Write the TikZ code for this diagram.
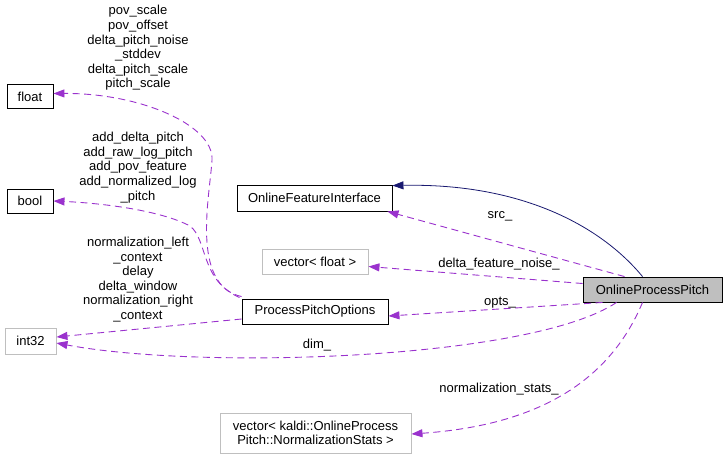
\documentclass[tikz,border=0pt]{standalone}
\usepackage{fontspec}
\setmainfont{Liberation Sans}
\usetikzlibrary{positioning,arrows.meta}
\definecolor{mempurple}{HTML}{9A32CD}
\definecolor{undocgrey}{HTML}{BFBFBF}
\definecolor{inhblue}{HTML}{191970}

\begin{document}
\begin{tikzpicture}[x=1pt,y=-1pt,
	txt/.style={font=\fontsize{13}{14.6}\selectfont, align=center, inner sep=0pt},
	box/.style={txt, rectangle, draw=black, line width=0.9pt},
	greybox/.style={box, draw=undocgrey},
	member/.style={draw=mempurple, line width=0.9pt, dash pattern=on 7pt off 4.5pt, -{Triangle[length=11pt,width=8pt,fill=mempurple]}},
	inherit/.style={draw=inhblue, line width=0.8pt, -{Triangle[length=11pt,width=8pt,fill=inhblue]}}]
	\useasboundingbox (0,0) rectangle (727,459);
	% classes
	\node[box, minimum width=46pt, minimum height=24pt] (float) at (30,96.5) {float};
	\node[box, minimum width=46pt, minimum height=24pt] (bool) at (30,201) {bool};
	\node[greybox, minimum width=51pt, minimum height=26pt] (int32) at (30.5,341) {int32};
	\node[box, minimum width=155pt, minimum height=26pt] (ofi) at (314.5,198) {OnlineFeatureInterface};
	\node[greybox, minimum width=106pt, minimum height=25pt] (vecfloat) at (315,261.5) {vector< float >};
	\node[box, minimum width=146pt, minimum height=25pt] (ppo) at (315,311.5) {ProcessPitchOptions};
	\node[box, fill=undocgrey, minimum width=139pt, minimum height=25pt] (opp) at (652.5,289.5) {OnlineProcessPitch};
	\node[greybox, minimum width=191pt, minimum height=40pt] (veckaldi) at (315.5,433) {vector< kaldi::OnlineProcess\\Pitch::NormalizationStats >};

	% inheritance
	\draw[inherit] ([xshift=-10pt]opp.north) .. controls (600,225) and (520,183) .. ([yshift=-1pt]ofi.north east);

	% members of OnlineProcessPitch
	\draw[member] ([xshift=-28pt]opp.north) -- ([xshift=-5pt]ofi.south east);
	\draw[member] ([yshift=6pt]opp.west) -- ([yshift=-5pt]vecfloat.east);
	\draw[member] ([xshift=-50pt]opp.south) -- ([yshift=-4.5pt]ppo.east);
	\draw[member] ([xshift=-36pt]opp.south) .. controls (530,360) and (200,370) .. ([yshift=-2pt]int32.east);
	\draw[member] ([xshift=-10pt]opp.south) .. controls (610,380) and (540,425) .. ([yshift=-1pt]veckaldi.east);

	% members of ProcessPitchOptions
	\draw[member] ([yshift=2pt]ppo.north west) .. controls (190,285) and (210,195) .. (212,160) .. controls (214,125) and (140,93) .. ([yshift=3pt]float.east);
	\draw[member] ([xshift=-2pt,yshift=1pt]ppo.north west) .. controls (200,280) and (208,240) .. (190,226) .. controls (160,210) and (100,203) .. (bool.east);
	\draw[member] ([yshift=-7.5pt]ppo.west) -- ([yshift=4pt]int32.east);

	% labels
	\node[txt] (lsrc) at (500,216) {src\_};
	\node[txt] (lnoise) at (499,264) {delta\_feature\_noise\_};
	\node[txt] (lopts) at (500,303) {opts\_};
	\node[txt] (ldim) at (317,345) {dim\_};
	\node[txt] (lstats) at (499,389) {normalization\_stats\_};
	\node[txt] (lfloat) at (138,48) {pov\_scale\\pov\_offset\\delta\_pitch\_noise\\\_stddev\\delta\_pitch\_scale\\pitch\_scale};
	\node[txt] (lbool) at (138,167.5) {add\_delta\_pitch\\add\_raw\_log\_pitch\\add\_pov\_feature\\add\_normalized\_log\\\_pitch};
	\node[txt] (lint) at (138,279.5) {normalization\_left\\\_context\\delay\\delta\_window\\normalization\_right\\\_context};
\end{tikzpicture}
\end{document}
